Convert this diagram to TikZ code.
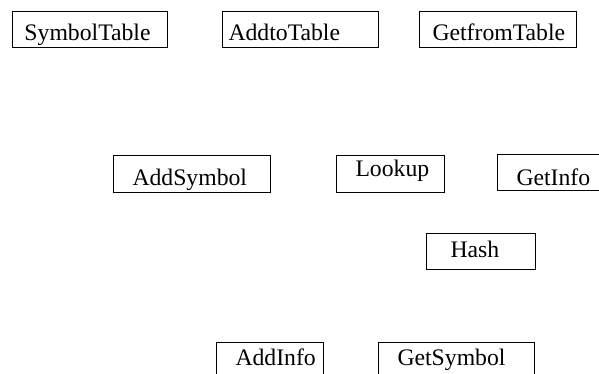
\documentclass[tikz,border=0pt]{standalone}
\usepackage{fontspec}
\setmainfont{Liberation Serif}
\tikzset{
  box/.style={draw=black, line width=1pt, anchor=north west, inner xsep=0pt, inner ysep=0pt,
    align=left, font=\fontsize{23.7}{28}\selectfont},
  geom/.style n args={3}{text width=#1pt, text height=#2pt, text depth=#3pt}
}
\newcommand{\padtext}[2]{\noindent\hspace*{#1pt}#2}
\begin{document}
\begin{tikzpicture}[x=1pt,y=-1pt]
\useasboundingbox (0,0) rectangle (599,373);
% top row (baseline 40)
\node[box, geom={155}{29}{7}] (st) at (12,11) {\padtext{12}{SymbolTable}};
\node[box, geom={156}{29}{7}] (at) at (222,11) {\padtext{6}{AddtoTable}};
\node[box, geom={157}{29}{7}] (gt) at (419,11) {\padtext{13}{GetfromTable}};
% middle row
\node[box, geom={157}{30}{7}] (as) at (113,155) {\padtext{19}{AddSymbol}};
\node[box, geom={108}{21}{16}] (lk) at (336,155) {\padtext{19}{Lookup}};
\node[box, geom={150}{31}{5}] (gi) at (497,154) {\padtext{19}{GetInfo}};
% hash
\node[box, geom={109}{24}{12}] (hs) at (426,233) {\padtext{24}{Hash}};
% bottom row (cut by the page edge)
\node[box, geom={107}{23}{20}] (ai) at (216,342) {\padtext{19}{AddInfo}};
\node[box, geom={156}{23}{20}] (gs) at (378,342) {\padtext{19}{GetSymbol}};
\end{tikzpicture}
\end{document}
